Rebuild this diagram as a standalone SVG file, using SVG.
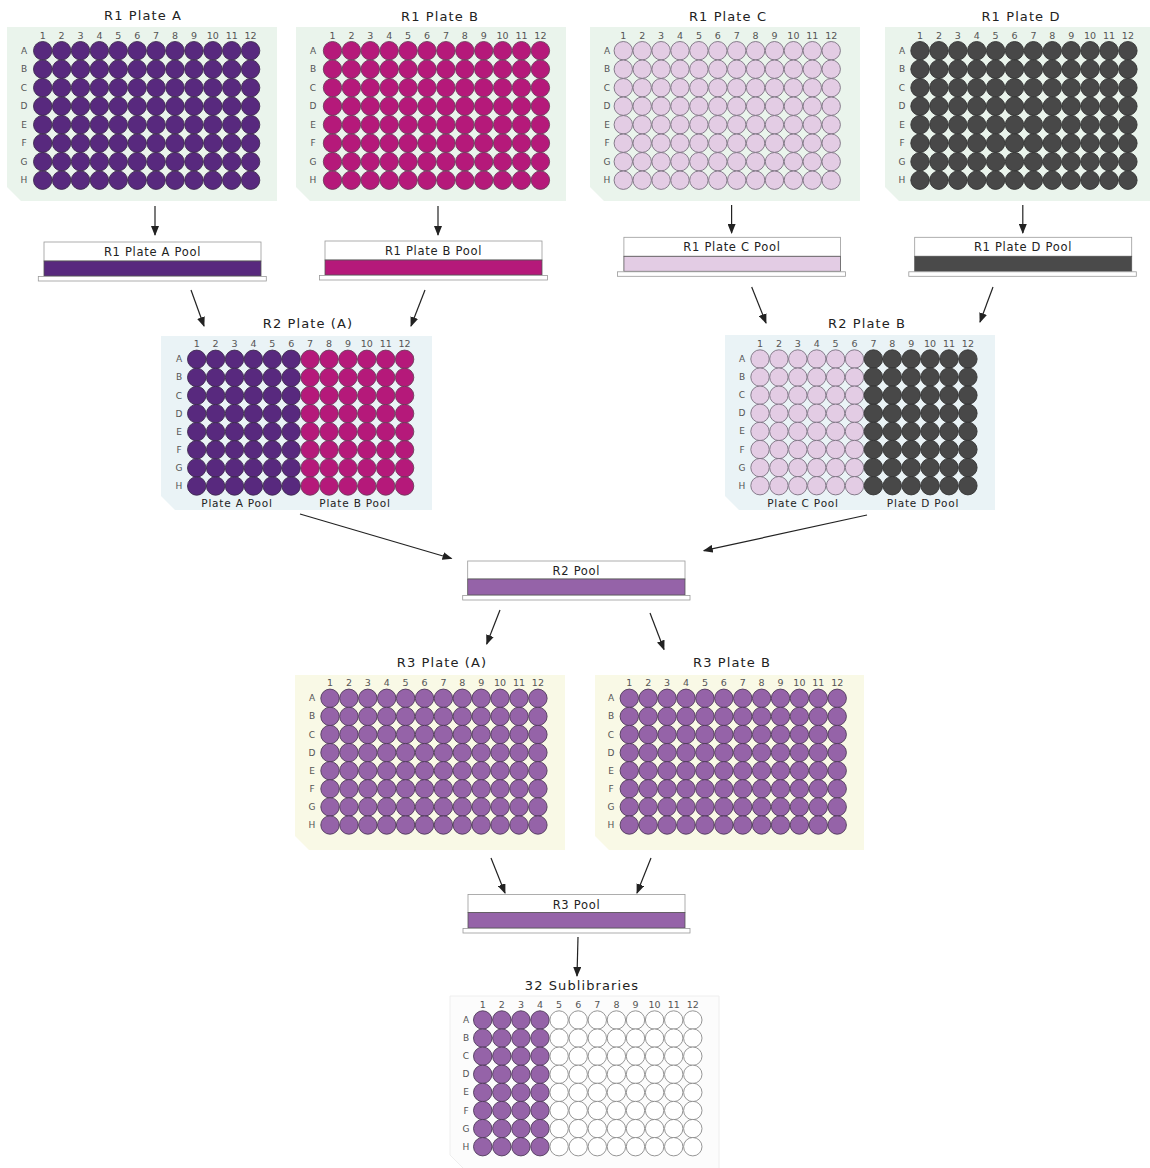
<svg xmlns="http://www.w3.org/2000/svg" width="1150" height="1168" viewBox="0 0 1150 1168">
<style>
text{font-family:"DejaVu Sans","Liberation Sans",sans-serif;fill:#222}
.title{font-size:13px;letter-spacing:1.1px;text-anchor:middle}
.plbl{font-size:11.5px;letter-spacing:0.7px;text-anchor:middle}
.sub{font-size:10.5px;letter-spacing:0.8px;text-anchor:middle}
.num{font-size:9.5px;fill:#555;text-anchor:middle}
.let{font-size:9px;fill:#555;text-anchor:middle}
.bg1{fill:#eaf4ec}.bg2{fill:#eaf3f6}.bg3{fill:#f9f9e6}.bg4{fill:#fcfcfc;stroke:#eeeeee;stroke-width:1}
.wA{fill:#58297e;stroke:#3e2a50;stroke-width:0.9}
.wB{fill:#b5197a;stroke:#6e3a5a;stroke-width:0.9}
.wC{fill:#e3cce4;stroke:#7b7080;stroke-width:0.9}
.wD{fill:#484848;stroke:#333;stroke-width:0.9}
.wP{fill:#9563a8;stroke:#4f3a5a;stroke-width:0.9}
.wE{fill:#ffffff;stroke:#8a8a8a;stroke-width:0.9}
.box{fill:#fff;stroke:#9a9a9a;stroke-width:0.8}
.band{stroke:#555;stroke-width:0.8}
.base{fill:#fff;stroke:#9a9a9a;stroke-width:0.8}
.arr{stroke:#222;stroke-width:1.2;fill:none;marker-end:url(#ah)}
</style>
<defs>
<marker id="ah" markerUnits="userSpaceOnUse" markerWidth="10" markerHeight="8" refX="9" refY="4" orient="auto"><path d="M0,0 L10,4 L0,8 z" fill="#222"/></marker>
<g id="r12"><circle cx="0" cy="0" r="9.2"/><circle cx="18.9" cy="0" r="9.2"/><circle cx="37.8" cy="0" r="9.2"/><circle cx="56.7" cy="0" r="9.2"/><circle cx="75.6" cy="0" r="9.2"/><circle cx="94.5" cy="0" r="9.2"/><circle cx="113.4" cy="0" r="9.2"/><circle cx="132.3" cy="0" r="9.2"/><circle cx="151.2" cy="0" r="9.2"/><circle cx="170.1" cy="0" r="9.2"/><circle cx="189" cy="0" r="9.2"/><circle cx="207.9" cy="0" r="9.2"/></g>
<g id="r6a"><circle cx="0" cy="0" r="9.2"/><circle cx="18.9" cy="0" r="9.2"/><circle cx="37.8" cy="0" r="9.2"/><circle cx="56.7" cy="0" r="9.2"/><circle cx="75.6" cy="0" r="9.2"/><circle cx="94.5" cy="0" r="9.2"/></g>
<g id="r6b"><circle cx="113.4" cy="0" r="9.2"/><circle cx="132.3" cy="0" r="9.2"/><circle cx="151.2" cy="0" r="9.2"/><circle cx="170.1" cy="0" r="9.2"/><circle cx="189" cy="0" r="9.2"/><circle cx="207.9" cy="0" r="9.2"/></g>
<g id="f4"><circle cx="0" cy="0" r="9.2"/><circle cx="19.1" cy="0" r="9.2"/><circle cx="38.2" cy="0" r="9.2"/><circle cx="57.3" cy="0" r="9.2"/></g>
<g id="f8"><circle cx="76.4" cy="0" r="9.2"/><circle cx="95.5" cy="0" r="9.2"/><circle cx="114.6" cy="0" r="9.2"/><circle cx="133.7" cy="0" r="9.2"/><circle cx="152.8" cy="0" r="9.2"/><circle cx="171.9" cy="0" r="9.2"/><circle cx="191" cy="0" r="9.2"/><circle cx="210.1" cy="0" r="9.2"/></g>
</defs>

<!-- R1 Plate A -->
<g id="r1-plate-a">
<polygon class="bg1" points="7,27 277,27 277,201 21,201 7,187"/>
<text class="title" x="143" y="20">R1 Plate A</text>
<text class="num" y="38.5"><tspan x="42.7">1</tspan><tspan x="61.6">2</tspan><tspan x="80.5">3</tspan><tspan x="99.4">4</tspan><tspan x="118.3">5</tspan><tspan x="137.2">6</tspan><tspan x="156.1">7</tspan><tspan x="175">8</tspan><tspan x="193.9">9</tspan><tspan x="212.8">10</tspan><tspan x="231.7">11</tspan><tspan x="250.6">12</tspan></text>
<text class="let"><tspan x="24" y="53.7">A</tspan><tspan x="24" y="72.2">B</tspan><tspan x="24" y="90.7">C</tspan><tspan x="24" y="109.2">D</tspan><tspan x="24" y="127.7">E</tspan><tspan x="24" y="146.2">F</tspan><tspan x="24" y="164.7">G</tspan><tspan x="24" y="183.2">H</tspan></text>
<g class="wA"><use href="#r12" x="42.7" y="50.7"/><use href="#r12" x="42.7" y="69.2"/><use href="#r12" x="42.7" y="87.7"/><use href="#r12" x="42.7" y="106.2"/><use href="#r12" x="42.7" y="124.7"/><use href="#r12" x="42.7" y="143.2"/><use href="#r12" x="42.7" y="161.7"/><use href="#r12" x="42.7" y="180.2"/></g>
</g>

<!-- R1 Plate B -->
<g id="r1-plate-b">
<polygon class="bg1" points="296,27 566,27 566,201 310,201 296,187"/>
<text class="title" x="440" y="21">R1 Plate B</text>
<text class="num" y="38.5"><tspan x="332.5">1</tspan><tspan x="351.4">2</tspan><tspan x="370.3">3</tspan><tspan x="389.2">4</tspan><tspan x="408.1">5</tspan><tspan x="427">6</tspan><tspan x="445.9">7</tspan><tspan x="464.8">8</tspan><tspan x="483.7">9</tspan><tspan x="502.6">10</tspan><tspan x="521.5">11</tspan><tspan x="540.4">12</tspan></text>
<text class="let"><tspan x="313" y="53.7">A</tspan><tspan x="313" y="72.2">B</tspan><tspan x="313" y="90.7">C</tspan><tspan x="313" y="109.2">D</tspan><tspan x="313" y="127.7">E</tspan><tspan x="313" y="146.2">F</tspan><tspan x="313" y="164.7">G</tspan><tspan x="313" y="183.2">H</tspan></text>
<g class="wB"><use href="#r12" x="332.5" y="50.7"/><use href="#r12" x="332.5" y="69.2"/><use href="#r12" x="332.5" y="87.7"/><use href="#r12" x="332.5" y="106.2"/><use href="#r12" x="332.5" y="124.7"/><use href="#r12" x="332.5" y="143.2"/><use href="#r12" x="332.5" y="161.7"/><use href="#r12" x="332.5" y="180.2"/></g>
</g>

<!-- R1 Plate C -->
<g id="r1-plate-c">
<polygon class="bg1" points="590,27 860,27 860,201 604,201 590,187"/>
<text class="title" x="728" y="21">R1 Plate C</text>
<text class="num" y="38.5"><tspan x="623.3">1</tspan><tspan x="642.2">2</tspan><tspan x="661.1">3</tspan><tspan x="680">4</tspan><tspan x="698.9">5</tspan><tspan x="717.8">6</tspan><tspan x="736.7">7</tspan><tspan x="755.6">8</tspan><tspan x="774.5">9</tspan><tspan x="793.4">10</tspan><tspan x="812.3">11</tspan><tspan x="831.2">12</tspan></text>
<text class="let"><tspan x="607" y="53.7">A</tspan><tspan x="607" y="72.2">B</tspan><tspan x="607" y="90.7">C</tspan><tspan x="607" y="109.2">D</tspan><tspan x="607" y="127.7">E</tspan><tspan x="607" y="146.2">F</tspan><tspan x="607" y="164.7">G</tspan><tspan x="607" y="183.2">H</tspan></text>
<g class="wC"><use href="#r12" x="623.3" y="50.7"/><use href="#r12" x="623.3" y="69.2"/><use href="#r12" x="623.3" y="87.7"/><use href="#r12" x="623.3" y="106.2"/><use href="#r12" x="623.3" y="124.7"/><use href="#r12" x="623.3" y="143.2"/><use href="#r12" x="623.3" y="161.7"/><use href="#r12" x="623.3" y="180.2"/></g>
</g>

<!-- R1 Plate D -->
<g id="r1-plate-d">
<polygon class="bg1" points="885,27 1150,27 1150,201 899,201 885,187"/>
<text class="title" x="1021" y="21">R1 Plate D</text>
<text class="num" y="38.5"><tspan x="920">1</tspan><tspan x="938.9">2</tspan><tspan x="957.8">3</tspan><tspan x="976.7">4</tspan><tspan x="995.6">5</tspan><tspan x="1014.5">6</tspan><tspan x="1033.4">7</tspan><tspan x="1052.3">8</tspan><tspan x="1071.2">9</tspan><tspan x="1090.1">10</tspan><tspan x="1109">11</tspan><tspan x="1127.9">12</tspan></text>
<text class="let"><tspan x="902" y="53.7">A</tspan><tspan x="902" y="72.2">B</tspan><tspan x="902" y="90.7">C</tspan><tspan x="902" y="109.2">D</tspan><tspan x="902" y="127.7">E</tspan><tspan x="902" y="146.2">F</tspan><tspan x="902" y="164.7">G</tspan><tspan x="902" y="183.2">H</tspan></text>
<g class="wD"><use href="#r12" x="920" y="50.7"/><use href="#r12" x="920" y="69.2"/><use href="#r12" x="920" y="87.7"/><use href="#r12" x="920" y="106.2"/><use href="#r12" x="920" y="124.7"/><use href="#r12" x="920" y="143.2"/><use href="#r12" x="920" y="161.7"/><use href="#r12" x="920" y="180.2"/></g>
</g>

<!-- R1 Pools -->
<g id="r1-pool-a">
<rect class="box" x="44" y="242" width="217" height="19"/>
<rect class="band" x="44" y="261" width="217" height="15" fill="#58297e"/>
<rect class="base" x="38.3" y="276.5" width="228" height="4.5"/>
<text class="plbl" x="152.5" y="255.5">R1 Plate A Pool</text>
</g>
<g id="r1-pool-b">
<rect class="box" x="325" y="241" width="217" height="19"/>
<rect class="band" x="325" y="260" width="217" height="15" fill="#b5197a"/>
<rect class="base" x="319.5" y="275.5" width="228" height="4.5"/>
<text class="plbl" x="433.5" y="254.5">R1 Plate B Pool</text>
</g>
<g id="r1-pool-c">
<rect class="box" x="623.9" y="237.3" width="216.5" height="19"/>
<rect class="band" x="623.9" y="256.3" width="216.5" height="15" fill="#e3cce4"/>
<rect class="base" x="617.5" y="271.8" width="228" height="4.5"/>
<text class="plbl" x="732" y="251">R1 Plate C Pool</text>
</g>
<g id="r1-pool-d">
<rect class="box" x="914.7" y="237.3" width="217" height="19"/>
<rect class="band" x="914.7" y="256.3" width="217" height="15" fill="#4a4a4a"/>
<rect class="base" x="908.8" y="271.8" width="227.5" height="4.5"/>
<text class="plbl" x="1023" y="251">R1 Plate D Pool</text>
</g>

<!-- R2 Plate (A) -->
<g id="r2-plate-a">
<polygon class="bg2" points="161,336 432,336 432,510 175,510 161,496"/>
<text class="title" x="308" y="328">R2 Plate (A)</text>
<text class="num" y="347"><tspan x="196.7">1</tspan><tspan x="215.6">2</tspan><tspan x="234.5">3</tspan><tspan x="253.4">4</tspan><tspan x="272.3">5</tspan><tspan x="291.2">6</tspan><tspan x="310.1">7</tspan><tspan x="329">8</tspan><tspan x="347.9">9</tspan><tspan x="366.8">10</tspan><tspan x="385.7">11</tspan><tspan x="404.6">12</tspan></text>
<text class="let"><tspan x="179" y="362.3">A</tspan><tspan x="179" y="380.4">B</tspan><tspan x="179" y="398.5">C</tspan><tspan x="179" y="416.6">D</tspan><tspan x="179" y="434.7">E</tspan><tspan x="179" y="452.8">F</tspan><tspan x="179" y="470.9">G</tspan><tspan x="179" y="489">H</tspan></text>
<g class="wA"><use href="#r6a" x="196.7" y="359.3"/><use href="#r6a" x="196.7" y="377.4"/><use href="#r6a" x="196.7" y="395.5"/><use href="#r6a" x="196.7" y="413.6"/><use href="#r6a" x="196.7" y="431.7"/><use href="#r6a" x="196.7" y="449.8"/><use href="#r6a" x="196.7" y="467.9"/><use href="#r6a" x="196.7" y="486"/></g>
<g class="wB"><use href="#r6b" x="196.7" y="359.3"/><use href="#r6b" x="196.7" y="377.4"/><use href="#r6b" x="196.7" y="395.5"/><use href="#r6b" x="196.7" y="413.6"/><use href="#r6b" x="196.7" y="431.7"/><use href="#r6b" x="196.7" y="449.8"/><use href="#r6b" x="196.7" y="467.9"/><use href="#r6b" x="196.7" y="486"/></g>
<text class="sub" x="237" y="507">Plate A Pool</text>
<text class="sub" x="355" y="507">Plate B Pool</text>
</g>

<!-- R2 Plate B -->
<g id="r2-plate-b">
<polygon class="bg2" points="725,335 995,335 995,510 739,510 725,496"/>
<text class="title" x="867" y="328">R2 Plate B</text>
<text class="num" y="347"><tspan x="760">1</tspan><tspan x="778.9">2</tspan><tspan x="797.8">3</tspan><tspan x="816.7">4</tspan><tspan x="835.6">5</tspan><tspan x="854.5">6</tspan><tspan x="873.4">7</tspan><tspan x="892.3">8</tspan><tspan x="911.2">9</tspan><tspan x="930.1">10</tspan><tspan x="949">11</tspan><tspan x="967.9">12</tspan></text>
<text class="let"><tspan x="742" y="362">A</tspan><tspan x="742" y="380.1">B</tspan><tspan x="742" y="398.2">C</tspan><tspan x="742" y="416.3">D</tspan><tspan x="742" y="434.4">E</tspan><tspan x="742" y="452.5">F</tspan><tspan x="742" y="470.6">G</tspan><tspan x="742" y="488.7">H</tspan></text>
<g class="wC"><use href="#r6a" x="760" y="359"/><use href="#r6a" x="760" y="377.1"/><use href="#r6a" x="760" y="395.2"/><use href="#r6a" x="760" y="413.3"/><use href="#r6a" x="760" y="431.4"/><use href="#r6a" x="760" y="449.5"/><use href="#r6a" x="760" y="467.6"/><use href="#r6a" x="760" y="485.7"/></g>
<g class="wD"><use href="#r6b" x="760" y="359"/><use href="#r6b" x="760" y="377.1"/><use href="#r6b" x="760" y="395.2"/><use href="#r6b" x="760" y="413.3"/><use href="#r6b" x="760" y="431.4"/><use href="#r6b" x="760" y="449.5"/><use href="#r6b" x="760" y="467.6"/><use href="#r6b" x="760" y="485.7"/></g>
<text class="sub" x="803" y="507">Plate C Pool</text>
<text class="sub" x="923" y="507">Plate D Pool</text>
</g>

<!-- R2 Pool -->
<g id="r2-pool">
<rect class="box" x="467.7" y="561" width="217.3" height="18"/>
<rect class="band" x="467.7" y="579" width="217.3" height="16" fill="#9563a8"/>
<rect class="base" x="462.7" y="595.5" width="227.3" height="4.5"/>
<text class="plbl" x="576.4" y="575">R2 Pool</text>
</g>

<!-- R3 Plate (A) -->
<g id="r3-plate-a">
<polygon class="bg3" points="295,675 565,675 565,850 309,850 295,836"/>
<text class="title" x="442" y="667">R3 Plate (A)</text>
<text class="num" y="686.3"><tspan x="330">1</tspan><tspan x="348.9">2</tspan><tspan x="367.8">3</tspan><tspan x="386.7">4</tspan><tspan x="405.6">5</tspan><tspan x="424.5">6</tspan><tspan x="443.4">7</tspan><tspan x="462.3">8</tspan><tspan x="481.2">9</tspan><tspan x="500.1">10</tspan><tspan x="519">11</tspan><tspan x="537.9">12</tspan></text>
<text class="let"><tspan x="312" y="701.3">A</tspan><tspan x="312" y="719.4">B</tspan><tspan x="312" y="737.5">C</tspan><tspan x="312" y="755.6">D</tspan><tspan x="312" y="773.7">E</tspan><tspan x="312" y="791.8">F</tspan><tspan x="312" y="809.9">G</tspan><tspan x="312" y="828">H</tspan></text>
<g class="wP"><use href="#r12" x="330" y="698.3"/><use href="#r12" x="330" y="716.4"/><use href="#r12" x="330" y="734.5"/><use href="#r12" x="330" y="752.6"/><use href="#r12" x="330" y="770.7"/><use href="#r12" x="330" y="788.8"/><use href="#r12" x="330" y="806.9"/><use href="#r12" x="330" y="825"/></g>
</g>

<!-- R3 Plate B -->
<g id="r3-plate-b">
<polygon class="bg3" points="595,675 864,675 864,850 609,850 595,836"/>
<text class="title" x="732" y="667">R3 Plate B</text>
<text class="num" y="686.3"><tspan x="629.3">1</tspan><tspan x="648.2">2</tspan><tspan x="667.1">3</tspan><tspan x="686">4</tspan><tspan x="704.9">5</tspan><tspan x="723.8">6</tspan><tspan x="742.7">7</tspan><tspan x="761.6">8</tspan><tspan x="780.5">9</tspan><tspan x="799.4">10</tspan><tspan x="818.3">11</tspan><tspan x="837.2">12</tspan></text>
<text class="let"><tspan x="611" y="701.3">A</tspan><tspan x="611" y="719.4">B</tspan><tspan x="611" y="737.5">C</tspan><tspan x="611" y="755.6">D</tspan><tspan x="611" y="773.7">E</tspan><tspan x="611" y="791.8">F</tspan><tspan x="611" y="809.9">G</tspan><tspan x="611" y="828">H</tspan></text>
<g class="wP"><use href="#r12" x="629.3" y="698.3"/><use href="#r12" x="629.3" y="716.4"/><use href="#r12" x="629.3" y="734.5"/><use href="#r12" x="629.3" y="752.6"/><use href="#r12" x="629.3" y="770.7"/><use href="#r12" x="629.3" y="788.8"/><use href="#r12" x="629.3" y="806.9"/><use href="#r12" x="629.3" y="825"/></g>
</g>

<!-- R3 Pool -->
<g id="r3-pool">
<rect class="box" x="468" y="894.5" width="217" height="18"/>
<rect class="band" x="468" y="912.5" width="217" height="15.5" fill="#9563a8"/>
<rect class="base" x="463" y="928.5" width="227" height="4.5"/>
<text class="plbl" x="576.5" y="908.5">R3 Pool</text>
</g>

<!-- 32 Sublibraries -->
<g id="sublibraries">
<polygon class="bg4" points="450,996 719,996 719,1169 464,1169 450,1155"/>
<text class="title" x="582" y="990">32 Sublibraries</text>
<text class="num" y="1008"><tspan x="482.7">1</tspan><tspan x="501.8">2</tspan><tspan x="520.9">3</tspan><tspan x="540">4</tspan><tspan x="559.1">5</tspan><tspan x="578.2">6</tspan><tspan x="597.3">7</tspan><tspan x="616.4">8</tspan><tspan x="635.5">9</tspan><tspan x="654.6">10</tspan><tspan x="673.7">11</tspan><tspan x="692.8">12</tspan></text>
<text class="let"><tspan x="466" y="1023">A</tspan><tspan x="466" y="1041.1">B</tspan><tspan x="466" y="1059.2">C</tspan><tspan x="466" y="1077.3">D</tspan><tspan x="466" y="1095.4">E</tspan><tspan x="466" y="1113.5">F</tspan><tspan x="466" y="1131.6">G</tspan><tspan x="466" y="1149.7">H</tspan></text>
<g class="wP"><use href="#f4" x="482.7" y="1020"/><use href="#f4" x="482.7" y="1038.1"/><use href="#f4" x="482.7" y="1056.2"/><use href="#f4" x="482.7" y="1074.3"/><use href="#f4" x="482.7" y="1092.4"/><use href="#f4" x="482.7" y="1110.5"/><use href="#f4" x="482.7" y="1128.6"/><use href="#f4" x="482.7" y="1146.7"/></g>
<g class="wE"><use href="#f8" x="482.7" y="1020"/><use href="#f8" x="482.7" y="1038.1"/><use href="#f8" x="482.7" y="1056.2"/><use href="#f8" x="482.7" y="1074.3"/><use href="#f8" x="482.7" y="1092.4"/><use href="#f8" x="482.7" y="1110.5"/><use href="#f8" x="482.7" y="1128.6"/><use href="#f8" x="482.7" y="1146.7"/></g>
</g>

<!-- Connectors -->
<g id="connectors">
<line class="arr" x1="155" y1="206" x2="155" y2="235"/>
<line class="arr" x1="438" y1="206" x2="438" y2="235"/>
<line class="arr" x1="731.6" y1="205" x2="731.6" y2="233"/>
<line class="arr" x1="1022.8" y1="205" x2="1022.8" y2="233"/>
<line class="arr" x1="191" y1="290" x2="204" y2="326"/>
<line class="arr" x1="425" y1="290" x2="411" y2="326"/>
<line class="arr" x1="751.7" y1="287" x2="766" y2="323"/>
<line class="arr" x1="993" y1="287" x2="980" y2="322"/>
<line class="arr" x1="300" y1="514" x2="451.5" y2="558.5"/>
<line class="arr" x1="867" y1="515" x2="703.8" y2="550.7"/>
<line class="arr" x1="500" y1="610" x2="486.7" y2="644"/>
<line class="arr" x1="650" y1="613" x2="664" y2="649.5"/>
<line class="arr" x1="491" y1="858" x2="505" y2="893"/>
<line class="arr" x1="651" y1="858" x2="637" y2="893"/>
<line class="arr" x1="578" y1="937" x2="577" y2="976"/>
</g>
</svg>
